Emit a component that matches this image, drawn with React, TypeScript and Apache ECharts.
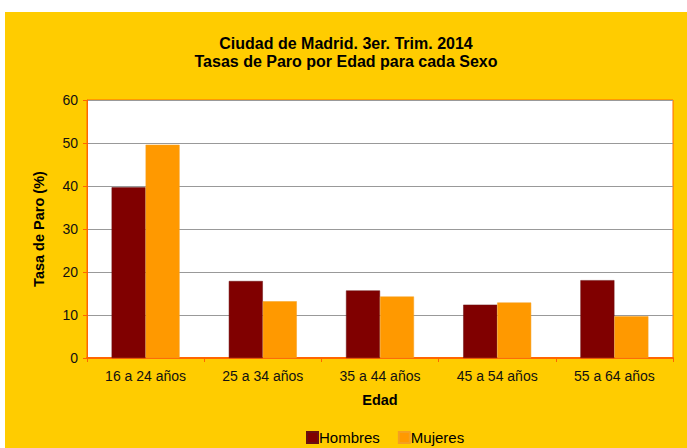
import React, { useEffect, useRef } from "react";
import * as echarts from "echarts";

const categories = ["16 a 24 años", "25 a 34 años", "35 a 44 años", "45 a 54 años", "55 a 64 años"];
const hombres = [39.7, 17.9, 15.7, 12.4, 18.1];
const mujeres = [49.6, 13.2, 14.3, 12.9, 9.7];
const yTicks = { min: 0, max: 60, interval: 10 };
const titleLines = ["Ciudad de Madrid. 3er. Trim. 2014", "Tasas de Paro por Edad para cada Sexo"];

const FONT = "'Liberation Sans', Arial, sans-serif";

export default function App() {
  const ref = useRef<HTMLDivElement>(null);
  useEffect(() => {
    if (!ref.current) return;
    const chart = echarts.init(ref.current, undefined, { renderer: "svg" });
    chart.setOption({
      animation: false,
      backgroundColor: "transparent",
      textStyle: { fontFamily: FONT },
      graphic: [
        {
          type: "rect",
          z: -10,
          silent: true,
          shape: { x: 5, y: 12, width: 682, height: 436 },
          style: { fill: "#FFCC00" },
        },
      ],
      title: {
        text: titleLines.join("\n"),
        left: 341,
        top: 29,
        textAlign: "center",
        textStyle: {
          fontFamily: FONT,
          fontSize: 16,
          fontWeight: "bold",
          color: "#000",
          lineHeight: 18,
        },
      },
      legend: {
        top: 425,
        left: 301,
        icon: "rect",
        itemWidth: 11,
        itemHeight: 11,
        itemGap: 18,
        textStyle: { fontFamily: FONT, fontSize: 15, color: "#000", padding: [0, 0, 0, -4] },
        data: ["Hombres", "Mujeres"],
      },
      grid: {
        left: 87,
        top: 100,
        right: 14,
        bottom: 90,
        show: true,
        backgroundColor: "#FFFFFF",
        borderColor: "#FF6600",
        borderWidth: 1,
      },
      xAxis: {
        type: "category",
        data: categories,
        name: "Edad",
        nameLocation: "middle",
        nameGap: 34,
        nameTextStyle: { fontFamily: FONT, fontSize: 14.5, fontWeight: "bold", color: "#000" },
        axisLine: { lineStyle: { color: "#FF6600", width: 2 } },
        axisTick: { show: true, length: 4, lineStyle: { color: "#FF6600" } },
        axisLabel: { fontFamily: FONT, fontSize: 14, color: "#111", margin: 11 },
      },
      yAxis: {
        type: "value",
        min: yTicks.min,
        max: yTicks.max,
        interval: yTicks.interval,
        name: "Tasa de Paro (%)",
        nameLocation: "middle",
        nameGap: 41,
        nameTextStyle: { fontFamily: FONT, fontSize: 14.5, fontWeight: "bold", color: "#000" },
        axisLine: { show: true, lineStyle: { color: "#FF6600", width: 1 } },
        axisTick: { show: true, length: 4, lineStyle: { color: "#FF6600" } },
        axisLabel: { fontFamily: FONT, fontSize: 14, color: "#111", margin: 9 },
        splitLine: { show: true, lineStyle: { color: "#999999", width: 1 } },
      },
      series: [
        {
          name: "Hombres",
          type: "bar",
          data: hombres,
          barWidth: "29%",
          barGap: "0%",
          itemStyle: { color: "#800000", borderColor: "#6a1010", borderWidth: 0.5 },
        },
        {
          name: "Mujeres",
          type: "bar",
          data: mujeres,
          barWidth: "29%",
          barGap: "0%",
          itemStyle: { color: "#FF9900", borderColor: "#f5a020", borderWidth: 0.5 },
        },
      ],
    });
    return () => chart.dispose();
  }, []);
  return (
    <div style={{ position: "absolute", left: 0, top: 0, width: 687, height: 448, background: "#fff" }}>
      <div ref={ref} style={{ width: 687, height: 448 }} />
    </div>
  );
}
